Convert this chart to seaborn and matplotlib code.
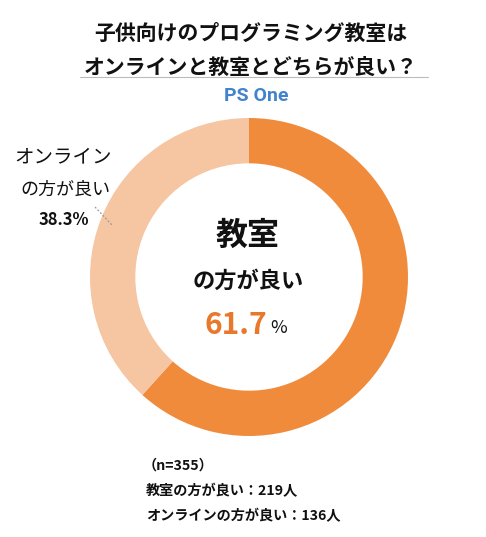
import matplotlib
matplotlib.use("Agg")
import matplotlib.pyplot as plt
import seaborn as sns

categories = ["教室", "オンライン"]
percents = [61.7, 38.3]
counts = [219, 136]
n_total = 355
colors = ["#F08B3C", "#F6C5A2"]
title_lines = ["子供向けのプログラミング教室は", "オンラインと教室とどちらが良い？"]

sns.set_theme(style="white")
plt.rcParams['font.family'] = ['Noto Sans CJK JP', 'DejaVu Sans']

W, H = 486, 537
fig = plt.figure(figsize=(W / 100, H / 100), dpi=100)
fig.patch.set_facecolor("white")

def fx(px):
    return px / W

def fy(py):
    return 1 - py / H

cx, cy, R = 249, 277, 159
ax = fig.add_axes([fx(cx - R), fy(cy + R), 2 * R / W, 2 * R / H])
ax.pie(percents, colors=colors, startangle=90, counterclock=False,
       radius=1.0, wedgeprops=dict(width=0.285, edgecolor="none"))
ax.set_xlim(-1, 1)
ax.set_ylim(-1, 1)
ax.set_aspect("auto")
ax.axis("off")

# Title
fig.text(fx(251), fy(33), title_lines[0], ha="center", va="center",
         fontsize=15, fontweight="bold", color="#111111")
fig.text(fx(251), fy(67), title_lines[1], ha="center", va="center",
         fontsize=15, fontweight="bold", color="#111111")
fig.add_artist(plt.Line2D([fx(80), fx(428)], [fy(77), fy(77)],
                          color="#BBBBBB", lw=0.8))
fig.text(fx(256), fy(96), "PS One", ha="center", va="center",
         fontsize=14, fontweight="bold", color="#4283CC",
         family=["Roboto", "DejaVu Sans"], stretch="condensed")

# Center labels
fig.text(fx(248), fy(236), categories[0], ha="center", va="center",
         fontsize=23, fontweight="bold", color="#111111")
fig.text(fx(248), fy(281), "の方が良い", ha="center", va="center",
         fontsize=16, fontweight="bold", color="#111111")
fig.text(fx(267), fy(325), f"{percents[0]}", ha="right", va="center",
         fontsize=21.5, fontweight="bold", color="#E8782C")
fig.text(fx(270), fy(328), "%", ha="left", va="center",
         fontsize=13, color="#111111")

# Left label
fig.text(fx(63), fy(157), categories[1], ha="center", va="center",
         fontsize=14, color="#111111")
fig.text(fx(65), fy(190), "の方が良い", ha="center", va="center",
         fontsize=13, color="#111111")
fig.text(fx(64), fy(220), f"{percents[1]}%", ha="center", va="center",
         fontsize=12, fontweight="bold", color="#111111")
fig.add_artist(plt.Line2D([fx(95), fx(112)], [fy(207), fy(225)],
                          color="#999999", lw=0.9, ls=(0, (1.5, 1.5))))

# Bottom notes
fig.text(fx(143), fy(466), f"（n={n_total}）", ha="left", va="center",
         fontsize=10.2, fontweight="bold", color="#111111")
fig.text(fx(146), fy(491), f"{categories[0]}の方が良い：{counts[0]}人", ha="left",
         va="center", fontsize=10.2, fontweight="bold", color="#111111")
fig.text(fx(146), fy(516), f"{categories[1]}の方が良い：{counts[1]}人", ha="left",
         va="center", fontsize=10.2, fontweight="bold", color="#111111")

fig.savefig("out.png", dpi=100, facecolor="white")
